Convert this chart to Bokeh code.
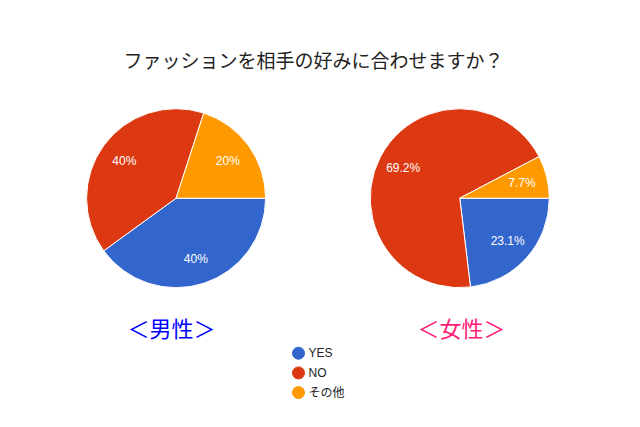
import numpy as np
from bokeh.plotting import figure
from bokeh.models import Range1d, ColumnDataSource
from bokeh.core.properties import value
from bokeh.embed import file_html
from bokeh.resources import INLINE

title = "ファッションを相手の好みに合わせますか？"
categories = ["YES", "NO", "その他"]
male = [40, 40, 20]
female = [23.1, 69.2, 7.7]
group_labels = ["＜男性＞", "＜女性＞"]
colors = ["#3366cc", "#dc3912", "#ff9900"]
group_colors = ["#0000ff", "#ff1a75"]

H = 427
def Y(py):
    return H - py

p = figure(width=624, height=411, x_range=Range1d(0, 624), y_range=Range1d(H - 411, H),
           output_backend="svg", toolbar_location=None, min_border=0)
p.axis.visible = False
p.grid.visible = False
p.outline_line_color = None
p.background_fill_color = "white"
p.border_fill_color = "white"

# title
p.text(x=[123], y=[Y(59)], text=[title], text_font=value("Noto Sans CJK JP"),
       text_font_size="19px", text_color="#222222", text_align="left", text_baseline="middle")

centers = [(175.6, 197.7), (459.3, 197.7)]
label_pos = [(171, 326), (461, 326)]
R = 89.5
for (cx, cy), vals, lab, lc, (gx, gy) in zip(centers, [male, female], group_labels, group_colors, label_pos):
    v = np.array(vals, dtype=float) / sum(vals)
    cum = np.concatenate([[0], np.cumsum(v)])
    start = -cum[1:] * 2 * np.pi
    end = -cum[:-1] * 2 * np.pi
    mid = (start + end) / 2
    src = ColumnDataSource(dict(start=start, end=end, color=colors,
                                lx=cx + 64 * np.cos(mid), ly=Y(cy) + 64 * np.sin(mid),
                                txt=[f"{x:g}%" for x in vals]))
    p.wedge(x=cx, y=Y(cy), radius=R, start_angle="start", end_angle="end",
            fill_color="color", line_color="white", line_width=1, source=src)
    p.text(x="lx", y="ly", text="txt", source=src, text_color="white",
           text_font=value("Liberation Sans"), text_font_size="12px",
           text_align="center", text_baseline="middle")
    p.text(x=[gx], y=[Y(gy)], text=[lab], text_color=lc, text_font=value("Noto Sans CJK JP"),
           text_font_size="22px", text_align="center", text_baseline="middle")

# legend
n = len(categories)
ly = [Y(352.7 + 19.7 * i) for i in range(n)]
lsrc = ColumnDataSource(dict(x=[298] * n, tx=[308] * n, y=ly, color=colors, cat=categories))
p.scatter(x="x", y="y", size=12, marker="circle", fill_color="color", line_color="color", source=lsrc)
p.text(x="tx", y="y", text="cat", source=lsrc, text_color="#222222",
       text_font=value("Liberation Sans, Noto Sans CJK JP"), text_font_size="12px",
       text_align="left", text_baseline="middle")

open("out.html", "w").write(file_html(p, INLINE))
